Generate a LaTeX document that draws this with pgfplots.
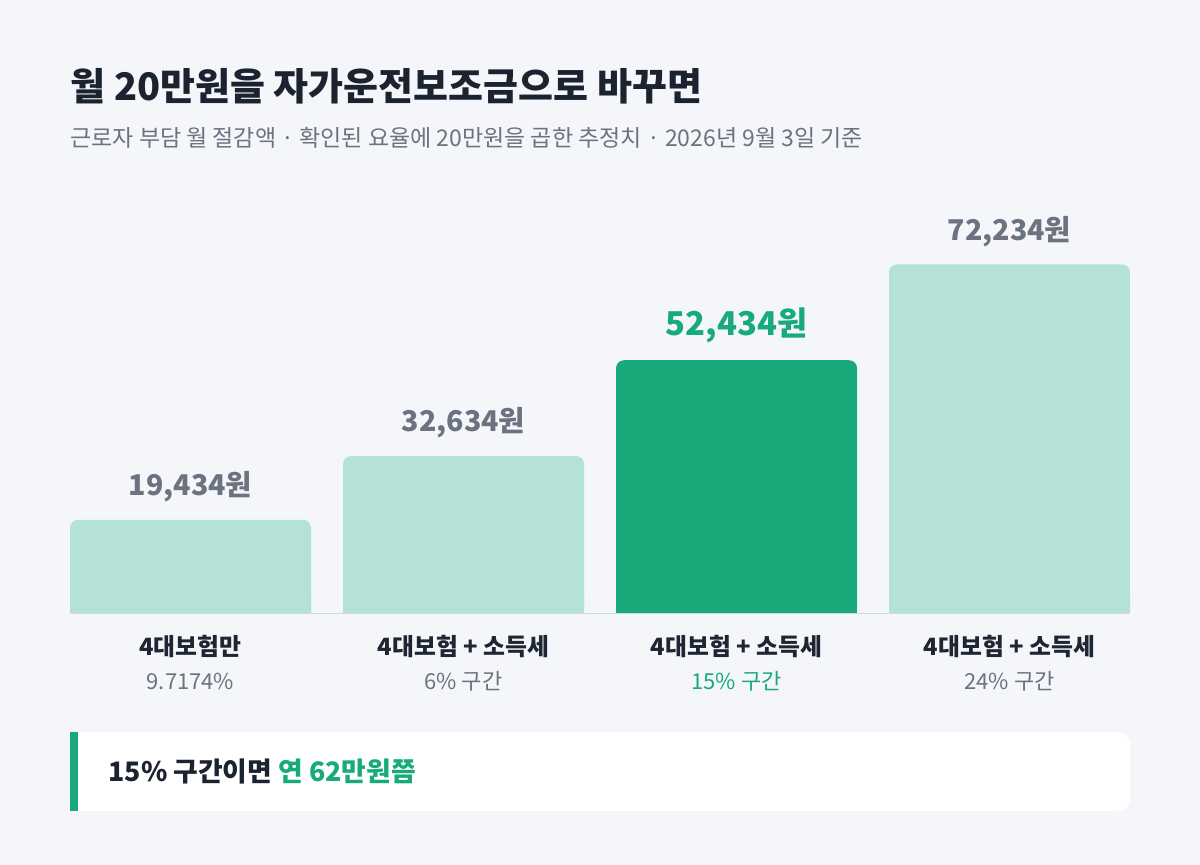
\documentclass[border=0pt]{standalone}
\usepackage{fontspec}
\setmainfont{Noto Sans CJK KR}
\usepackage{pgfplots}
\usepackage{pgfplotstable}
\pgfplotsset{compat=1.18}
\definecolor{bg}{HTML}{F4F6FA}
\definecolor{titlec}{HTML}{1B2230}
\definecolor{subc}{HTML}{6B7280}
\definecolor{lightbar}{HTML}{B5E2D7}
\definecolor{greenc}{HTML}{19AA7C}
\definecolor{catc}{HTML}{1F2633}
\definecolor{linec}{HTML}{D3D9E2}
\pgfplotstableread{
x y
0 19434
1 32634
3 72234
}\lighttable
\pgfplotstableread{
x y
2 52434
}\darktable
\pgfplotsset{barbase/.style={
  scale only axis, width=530pt,
  hide axis, xmin=-0.4414, xmax=3.4414, ymin=0,
  ybar, bar width=120.5pt, bar shift=0pt}}
\begin{document}
\begin{tikzpicture}
\fill[bg] (0,0) rectangle (600pt,432.5pt);
\node[anchor=west, inner sep=0pt, text=titlec, font=\fontsize{19pt}{22pt}\selectfont\bfseries] at (35pt,389.5pt) {월 20만원을 자가운전보조금으로 바꾸면};
\node[anchor=west, inner sep=0pt, text=subc, font=\fontsize{11.5pt}{14pt}\selectfont] at (35pt,363.5pt) {근로자 부담 월 절감액 · 확인된 요율에 20만원을 곱한 추정치 · 2026년 9월 3일 기준};
\begin{axis}[barbase,
  at={(35pt,125.5pt)}, anchor=south west,
  height=193.6pt, ymax=80000,
  clip mode=individual,
]
\addplot[fill=lightbar, draw=none, rounded corners=4pt] table[x=x,y=y] {\lighttable};
\addplot[fill=greenc, draw=none, rounded corners=4pt] table[x=x,y=y] {\darktable};
\node[text=subc, font=\fontsize{14.3pt}{17pt}\selectfont\bfseries] at ([yshift=16.5pt]axis cs:0,19434) {19,434원};
\node[text=subc, font=\fontsize{14.3pt}{17pt}\selectfont\bfseries] at ([yshift=16.5pt]axis cs:1,32634) {32,634원};
\node[text=greenc, font=\fontsize{16.4pt}{19pt}\selectfont\bfseries] at ([yshift=17.5pt]axis cs:2,52434) {52,434원};
\node[text=subc, font=\fontsize{14.3pt}{17pt}\selectfont\bfseries] at ([yshift=16.5pt]axis cs:3,72234) {72,234원};
\node[text=catc, font=\fontsize{11.9pt}{14pt}\selectfont\bfseries] at ([yshift=-16.5pt]axis cs:0,0) {4대보험만};
\node[text=catc, font=\fontsize{11.9pt}{14pt}\selectfont\bfseries] at ([yshift=-16.5pt]axis cs:1,0) {4대보험 + 소득세};
\node[text=catc, font=\fontsize{11.9pt}{14pt}\selectfont\bfseries] at ([yshift=-16.5pt]axis cs:2,0) {4대보험 + 소득세};
\node[text=catc, font=\fontsize{11.9pt}{14pt}\selectfont\bfseries] at ([yshift=-16.5pt]axis cs:3,0) {4대보험 + 소득세};
\node[text=subc, font=\fontsize{11pt}{13pt}\selectfont] at ([yshift=-33.5pt]axis cs:0,0) {9.7174\%};
\node[text=subc, font=\fontsize{11pt}{13pt}\selectfont] at ([yshift=-33.5pt]axis cs:1,0) {6\% 구간};
\node[text=greenc, font=\fontsize{11pt}{13pt}\selectfont] at ([yshift=-33.5pt]axis cs:2,0) {15\% 구간};
\node[text=subc, font=\fontsize{11pt}{13pt}\selectfont] at ([yshift=-33.5pt]axis cs:3,0) {24\% 구간};
\end{axis}
\begin{axis}[barbase,
  at={(35pt,125.5pt)}, anchor=south west,
  height=9.68pt, ymax=4000,
]
\addplot[fill=lightbar, draw=none] table[x=x,y=y] {\lighttable};
\addplot[fill=greenc, draw=none] table[x=x,y=y] {\darktable};
\draw[linec, line width=1.3pt] (axis cs:-0.455,0) -- (axis cs:3.4414,0);
\end{axis}
\fill[white] (35pt,27pt) -- (35pt,66.5pt) [rounded corners=6pt] -- (565pt,66.5pt) -- (565pt,27pt) [sharp corners] -- cycle;
\fill[greenc] (35pt,27pt) rectangle (39pt,66.5pt);
\node[anchor=west, inner sep=0pt, font=\fontsize{13.4pt}{16pt}\selectfont\bfseries] at (54pt,47pt) {\textcolor{titlec}{15\% 구간이면} \textcolor{greenc}{연 62만원쯤}};
\end{tikzpicture}
\end{document}
